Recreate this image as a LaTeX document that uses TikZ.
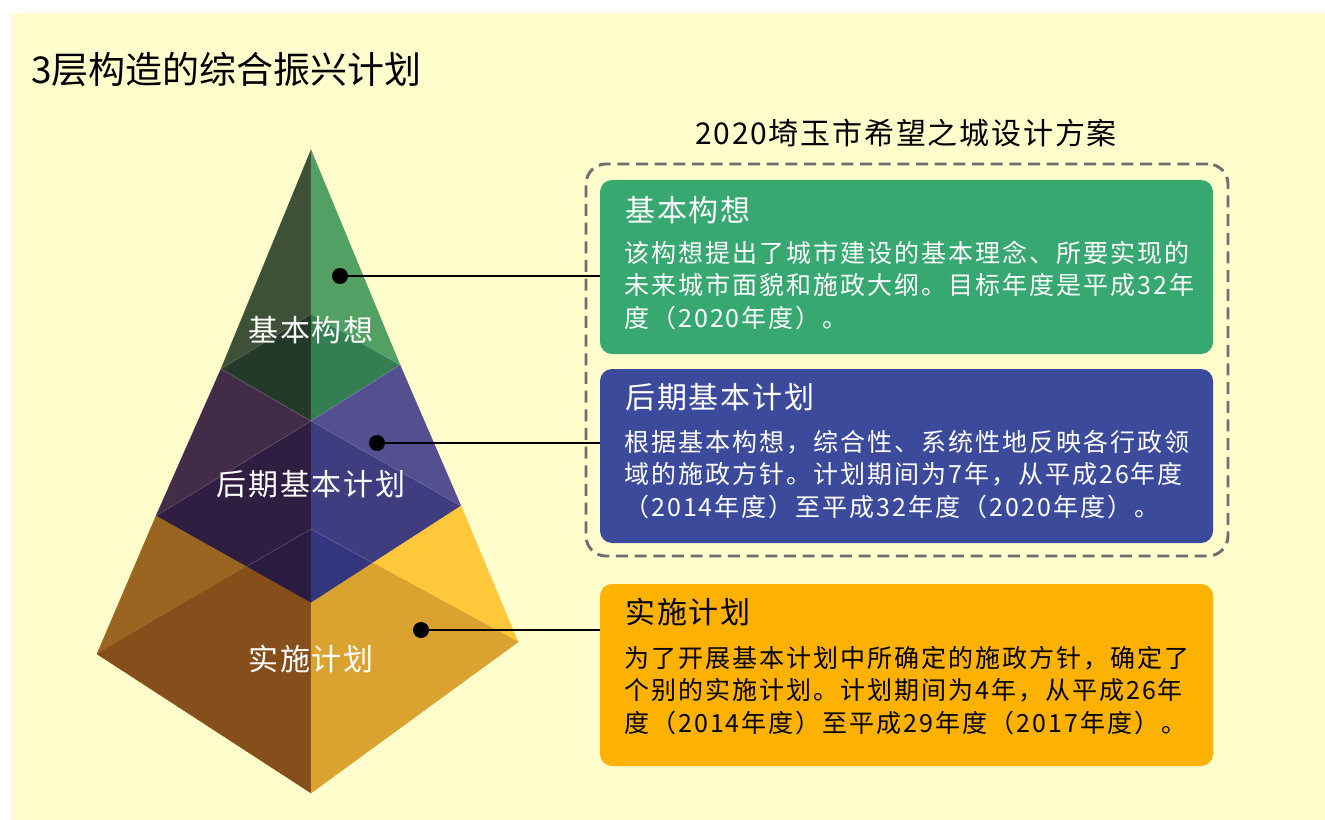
\documentclass[tikz,border=0pt]{standalone}
\usepackage{fontspec}
\setmainfont{Noto Sans CJK SC}
\newfontfamily\bodyfont{Noto Sans CJK SC}[LetterSpace=8]
\newfontfamily\titlefont{Noto Sans CJK SC}[LetterSpace=6]
\newfontfamily\subfont{Noto Sans CJK SC}[LetterSpace=6]
\definecolor{bgyellow}{HTML}{FFFDCC}
\definecolor{boxgreen}{HTML}{37A870}
\definecolor{boxblue}{HTML}{3C4A9C}
\definecolor{boxorange}{HTML}{FDB100}
\definecolor{dashgray}{HTML}{6F6F6F}
\definecolor{gLU}{HTML}{3E5035}
\definecolor{gRU}{HTML}{53A064}
\definecolor{gLL}{HTML}{243A29}
\definecolor{gRL}{HTML}{337F52}
\definecolor{pLU}{HTML}{422C48}
\definecolor{pRU}{HTML}{544F8F}
\definecolor{pLL}{HTML}{2F1E42}
\definecolor{pRL}{HTML}{403C80}
\definecolor{oL}{HTML}{2A1B40}
\definecolor{oR}{HTML}{33367E}
\definecolor{yLU}{HTML}{9A6520}
\definecolor{yRU}{HTML}{FEC83A}
\definecolor{yLL}{HTML}{854E1B}
\definecolor{yRL}{HTML}{DAA330}
\begin{document}
\begin{tikzpicture}[x=0.75pt,y=-0.75pt,
  face/.style={fill=#1,draw=#1,line width=0.3pt,line join=round},
  ridge/.style={draw=white,draw opacity=0.22,line width=0.5pt},
  plabel/.style={text=white,font=\titlefont\fontsize{22.5pt}{26pt}\selectfont,inner sep=0pt},
  card/.style={rounded corners=9pt,minimum width=459.75pt,inner sep=0pt,draw=none},
  ctitle/.style={anchor=west,inner sep=0pt,font=\titlefont\fontsize{22.5pt}{26pt}\selectfont,text height=0.88em,text depth=0.12em},
  cbody/.style={anchor=west,inner sep=0pt,font=\bodyfont\fontsize{18.75pt}{24pt}\selectfont,text height=0.88em,text depth=0.12em},
  dotmark/.style={circle,fill=black,inner sep=0pt,minimum size=12pt},
  link/.style={line width=1.5pt,draw=black}]
\useasboundingbox (0,0) rectangle (1325,820);
\fill[white] (0,0) rectangle (1325,820);
\fill[bgyellow] (11,13) rectangle (1325,820);

% pyramid coordinates
\coordinate (A) at (311,150);
\coordinate (L) at (221,369);
\coordinate (B) at (311,314);
\coordinate (R) at (400,365);
\coordinate (F) at (311,421);
\coordinate (L2) at (156,516);
\coordinate (R2) at (461,506);
\coordinate (F2) at (311,603);
\coordinate (B3) at (311,529);
\coordinate (Xl) at (246.4,566.7);
\coordinate (Xr) at (372.8,563);
\coordinate (L3) at (97,654);
\coordinate (R3) at (518,642);
\coordinate (F3) at (311,793);

% green tier
\path[face=gLU] (A) -- (L) -- (B) -- cycle;
\path[face=gRU] (A) -- (B) -- (R) -- cycle;
\path[face=gLL] (L) -- (B) -- (F) -- cycle;
\path[face=gRL] (B) -- (R) -- (F) -- cycle;
% purple tier
\path[face=pLU] (L) -- (F) -- (L2) -- cycle;
\path[face=pRU] (F) -- (R) -- (R2) -- cycle;
\path[face=pLL] (L2) -- (F) -- (F2) -- cycle;
\path[face=pRL] (F) -- (R2) -- (F2) -- cycle;
\path[face=oL] (Xl) -- (B3) -- (F2) -- cycle;
\path[face=oR] (B3) -- (Xr) -- (F2) -- cycle;
% yellow tier
\path[face=yLU] (L2) -- (Xl) -- (L3) -- cycle;
\path[face=yRU] (R2) -- (R3) -- (Xr) -- cycle;
\path[face=yLL] (L3) -- (Xl) -- (F2) -- (F3) -- cycle;
\path[face=yRL] (Xr) -- (R3) -- (F3) -- (F2) -- cycle;
% faint ridges
\draw[ridge] (L) -- (B) -- (R);
\draw[ridge] (L) -- (F) -- (R);
\draw[ridge] (L2) -- (F) -- (R2);
\draw[ridge] (Xl) -- (B3) -- (Xr);

\node[plabel] (lab1) at (311,330) {基本构想};
\node[plabel] (lab2) at (311,484) {后期基本计划};
\node[plabel] (lab3) at (311,659) {实施计划};

% headings
\node[anchor=west,inner sep=0pt,font=\fontsize{27.75pt}{32pt}\selectfont] (head) at (31,70) {3层构造的综合振兴计划};
\node[inner sep=0pt,font=\subfont\fontsize{22.5pt}{26pt}\selectfont] (sub) at (906,133) {2020埼玉市希望之城设计方案};

% dashed frame
\node[draw=dashgray,line width=2.2pt,dash pattern=on 9pt off 5pt,rounded corners=15pt,
  minimum width=481.5pt,minimum height=294pt,inner sep=0pt] (frame) at (907,360) {};

% cards
\node[card,fill=boxgreen,minimum height=130.5pt] (gbox) at (906.5,267) {};
\node[card,fill=boxblue,minimum height=130.5pt] (bbox) at (906.5,456) {};
\node[card,fill=boxorange,minimum height=136.5pt] (obox) at (906.5,675) {};

\node[ctitle,text=white] (gt) at (625,216) {基本构想};
\node[cbody,text=white] (g1) at (624,257) {该构想提出了城市建设的基本理念、所要实现的};
\node[cbody,text=white] (g2) at (624,289.5) {未来城市面貌和施政大纲。目标年度是平成32年};
\node[cbody,text=white] (g3) at (624,322) {度（2020年度）。};

\node[ctitle,text=white] (bt) at (625,403) {后期基本计划};
\node[cbody,text=white] (b1) at (624,446) {根据基本构想，综合性、系统性地反映各行政领};
\node[cbody,text=white] (b2) at (624,478.5) {域的施政方针。计划期间为7年，从平成26年度};
\node[cbody,text=white] (b3) at (624,511) {（2014年度）至平成32年度（2020年度）。};

\node[ctitle,text=black] (ot) at (625,618) {实施计划};
\node[cbody,text=black] (o1) at (624,662) {为了开展基本计划中所确定的施政方针，确定了};
\node[cbody,text=black] (o2) at (624,694.5) {个别的实施计划。计划期间为4年，从平成26年};
\node[cbody,text=black] (o3) at (624,727) {度（2014年度）至平成29年度（2017年度）。};

% connectors
\node[dotmark] (d1) at (340,276) {};
\node[dotmark] (d2) at (377,443) {};
\node[dotmark] (d3) at (421,630) {};
\draw[link] (d1.center) -- (d1.center -| gbox.west);
\draw[link] (d2.center) -- (d2.center -| bbox.west);
\draw[link] (d3.center) -- (d3.center -| obox.west);
\end{tikzpicture}
\end{document}
